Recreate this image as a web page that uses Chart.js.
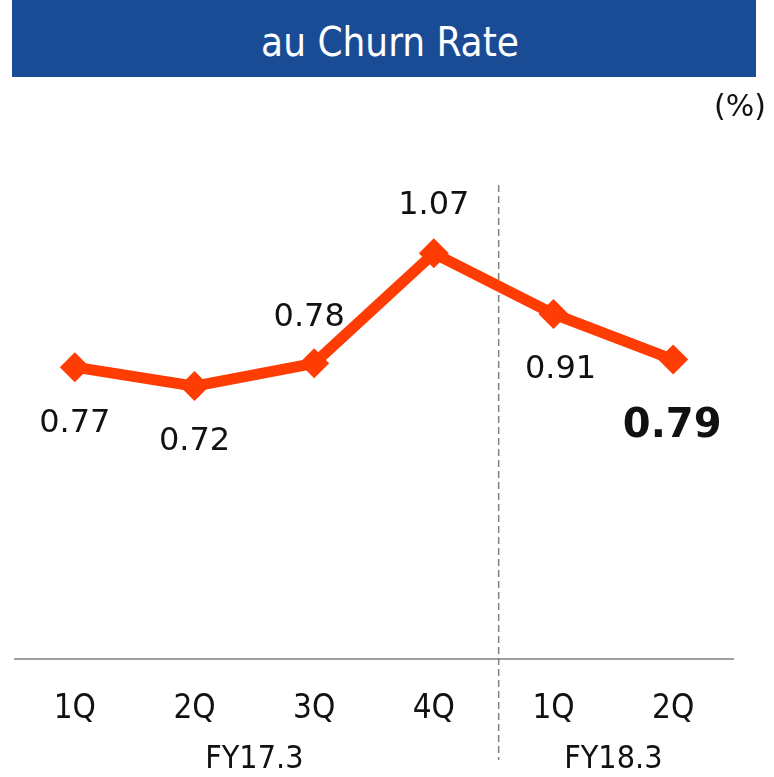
<!DOCTYPE html>
<html>
<head>
<meta charset="utf-8">
<script src="https://cdn.jsdelivr.net/npm/chart.js@4"></script>
<style>
  html, body { margin: 0; padding: 0; background: #fff; }
  #wrap { position: relative; width: 774px; height: 777px; overflow: hidden; }
  #title {
    position: absolute; left: 12px; top: 0; width: 744px; height: 77px;
    background: #1a4c96; color: #fff; text-align: center; line-height: 84px;
    font-family: "DejaVu Sans Condensed", "DejaVu Sans", sans-serif; font-size: 40px;
    padding-left: 12px; box-sizing: border-box;
  }
  #unit {
    position: absolute; right: 8px; top: 88px;
    font-family: "DejaVu Sans", sans-serif; font-size: 30px; color: #111;
  }
  canvas { position: absolute; left: 0; top: 0; }
</style>
</head>
<body>
<div id="wrap">
  <canvas id="mainChart" width="774" height="777"></canvas>
  <div id="title">au Churn Rate</div>
  <div id="unit">(%)</div>
</div>
<script>
// datos
const quarters   = ["1Q", "2Q", "3Q", "4Q", "1Q", "2Q"];
const churnRates = [0.77, 0.72, 0.78, 1.07, 0.91, 0.79];
const fiscalYears = [
  { label: "FY17.3", from: 0, to: 3 },
  { label: "FY18.3", from: 4, to: 5 },
];

const LINE_COLOR = "#fe3c03";

// posición de cada etiqueta respecto al punto (dx, dy) y si va en negrita
const labelStyle = [
  { dx: 0,  dy: 57, bold: false },
  { dx: 0,  dy: 56, bold: false },
  { dx: -5, dy: -46, bold: false },
  { dx: 0,  dy: -48, bold: false },
  { dx: 7,  dy: 56, bold: false },
  { dx: -1, dy: 67, bold: true },
];

// etiquetas de valor + línea divisoria + años fiscales
const extrasPlugin = {
  id: "extras",
  beforeDatasetsDraw(chart) {
    const { ctx, scales: { x } } = chart;
    const xm = (x.getPixelForValue(3) + x.getPixelForValue(4)) / 2 + 5;
    ctx.save();
    ctx.strokeStyle = "#808080";
    ctx.lineWidth = 1.5;
    ctx.setLineDash([7, 4]);
    ctx.beginPath();
    ctx.moveTo(xm, 185);
    ctx.lineTo(xm, 760);
    ctx.stroke();
    ctx.restore();
  },
  afterDatasetsDraw(chart) {
    const { ctx, scales: { x } } = chart;
    const meta = chart.getDatasetMeta(0);
    ctx.save();
    ctx.fillStyle = "#111";
    ctx.textAlign = "center";
    ctx.textBaseline = "middle";
    meta.data.forEach((pt, i) => {
      const s = labelStyle[i];
      ctx.font = s.bold ? "bold 40px 'DejaVu Sans', sans-serif" : "32px 'DejaVu Sans', sans-serif";
      ctx.fillText(churnRates[i].toFixed(2), pt.x + s.dx, pt.y + s.dy);
    });
    ctx.font = "32px 'DejaVu Sans Condensed', 'DejaVu Sans', sans-serif";
    fiscalYears.forEach(fy => {
      const cx = (x.getPixelForValue(fy.from) + x.getPixelForValue(fy.to)) / 2;
      ctx.fillText(fy.label, cx, 760);
    });
    ctx.restore();
  }
};

new Chart(document.getElementById("mainChart").getContext("2d"), {
  type: "line",
  data: {
    labels: quarters,
    datasets: [{
      data: churnRates,
      borderColor: LINE_COLOR,
      backgroundColor: LINE_COLOR,
      borderWidth: 11,
      tension: 0,
      pointStyle: "rectRot",
      pointRadius: 15,
      pointBorderWidth: 0,
      pointBackgroundColor: LINE_COLOR,
    }]
  },
  options: {
    responsive: false,
    animation: false,
    devicePixelRatio: 1,
    layout: { padding: { left: 13, right: 41, top: 128, bottom: 18 } },
    plugins: { legend: { display: false }, tooltip: { enabled: false } },
    scales: {
      x: {
        offset: true,
        grid: { display: false, drawTicks: false },
        border: { display: true, color: "#a0a0a0", width: 2 },
        ticks: {
          color: "#111",
          padding: 30,
          autoSkip: false,
          maxRotation: 0,
          font: { family: "'DejaVu Sans Condensed', 'DejaVu Sans', sans-serif", size: 33 }
        }
      },
      y: {
        display: false,
        min: 0,
        max: 1.4
      }
    }
  },
  plugins: [extrasPlugin]
});
</script>
</body>
</html>
